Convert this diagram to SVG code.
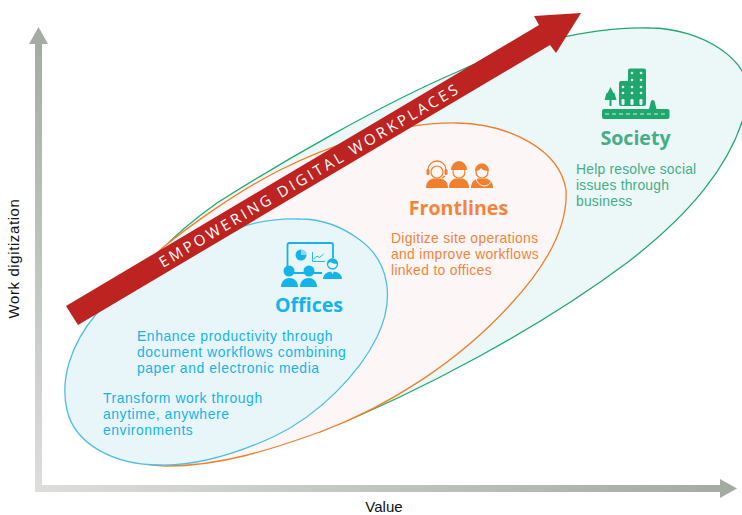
<svg xmlns="http://www.w3.org/2000/svg" width="742" height="515" viewBox="0 0 742 515">
<style>
text{font-family:"Liberation Sans",Arial,sans-serif}
.t{font-size:13.900px}
.b{fill:#14b4ea}.o{fill:#f2843c}.g{fill:#46ad88}
.b.t{letter-spacing:.58px}.o.t{letter-spacing:.32px}.g.t{letter-spacing:.2px}
.h{font-family:"Open Sans","Noto Sans",sans-serif;font-size:19.600px;font-weight:700}
.ax{font-size:15px;fill:#111}
.area{stroke-width:1.300}
</style>
<defs>
<linearGradient id="gv" gradientUnits="userSpaceOnUse" x1="0" y1="492" x2="0" y2="27"><stop offset="0" stop-color="#dcdedc"/><stop offset="1" stop-color="#a3aaa2"/></linearGradient>
<linearGradient id="gh" gradientUnits="userSpaceOnUse" x1="35" y1="0" x2="737" y2="0"><stop offset="0" stop-color="#dcdedc"/><stop offset="1" stop-color="#a3aaa2"/></linearGradient>
</defs>
<g id="axes">
<path d="M35,492V44H29L38.500,27L48,44H42V492Z" fill="url(#gv)"/>
<path d="M35,485H720V479L737,488.500L720,498V492H35Z" fill="url(#gh)"/>
<text class="ax" x="19" y="258.500" text-anchor="middle" letter-spacing=".6" transform="rotate(-90 19 258.500)">Work digitization</text>
<text class="ax" x="384" y="511.500" text-anchor="middle">Value</text>
</g>
<g id="society-area"><path class="area" d="M320,432C420,392 540,328 628,262C685,218 735,165 748,100C755,60 700,28 650,28C590,26 510,47 457,72C380,105 280,163 217,203C190,222 165,245 150,262C200,300 250,400 320,432Z" fill="#ecf7f7" stroke="#22a86f"/></g>
<g id="frontlines-area"><path class="area" d="M167,466C220,466 270,450 320,432C390,406 460,360 510,305C550,262 568,225 566,190C560,150 510,124 457,123C390,122 320,150 280,170C240,190 190,225 160,250C100,320 60,466 167,466Z" fill="#fdf6f6" stroke="#f07f2e"/></g>
<g id="offices-area"><path class="area" d="M160,465C200,466 240,452 273,437C320,415 360,372 377,337C395,300 390,262 360,240C340,225 320,219 300,219C275,218 250,223 230,231C180,250 130,280 97,313C70,345 60,380 67,410C75,445 115,465 160,465Z" fill="#e8f6f9" stroke="#4fbfe0"/></g>
<g id="connectors"><path d="M66,306L539,25L534,16L581,13L556,53L550,45L78,325Z" fill="#bd2320"/>
<text x="0" y="0" font-size="15" fill="#fff" textLength="344" lengthAdjust="spacing" style="font-family:'Open Sans','Noto Sans',sans-serif" transform="translate(163,268) rotate(-30.600)">EMPOWERING DIGITAL WORKPLACES</text></g>
<g id="offices">
<path d="M322,273H289.500a2,2 0 0 1 -2,-2V245a2,2 0 0 1 2,-2H331a2,2 0 0 1 2,2V258" fill="none" stroke="#14b4ea" stroke-width="1.800"/>
<circle cx="301" cy="255" r="5.500" fill="#14b4ea"/><path d="M301,255v-5.500a5.500,5.500 0 0 1 5.500,5.500Z" fill="#8fd8f3"/>
<path d="M312.500,252v9.500H325M313.500,259l3.500,-3l2.500,1.500l4,-3.500" fill="none" stroke="#14b4ea" stroke-width=".9"/>
<g fill="#14b4ea"><circle cx="289" cy="271" r="5.500"/><path d="M281,287c0,-12 17,-12 17,0Z"/><circle cx="309" cy="271" r="5.500"/><path d="M300,287c0,-12 17,-12 17,0Z"/>
<path d="M323,279c0,-10 19,-10 19,0Z"/><path d="M330,270l2.500,4l2.500,-4Z" fill="#e8f6f9"/><circle cx="332.500" cy="264" r="5" fill="#e8f6f9" stroke="#14b4ea" stroke-width="1.300"/><path d="M327.500,264a5,5.500 0 0 1 10,0c-3,0 -6,-1 -7,-2Z"/></g>
<text class="h b" x="309" y="312" text-anchor="middle">Offices</text>
<text class="t b" x="137" y="341">Enhance productivity through</text>
<text class="t b" x="137" y="357">document workflows combining</text>
<text class="t b" x="137" y="373">paper and electronic media</text>
<text class="t b" x="103" y="403">Transform work through</text>
<text class="t b" x="103" y="419">anytime, anywhere</text>
<text class="t b" x="103" y="435">environments</text>
</g>
<g id="frontlines">
<g fill="#f07f2e"><path d="M426,188c0,-6 3,-8 7,-9.500h8c4,1.500 7,3.500 7,9.500Z"/><path d="M449,188c0,-6 3,-8 6,-9.500h8c3,1.500 6,3.500 6,9.500Z"/><path d="M471,188c0,-6 3,-8 7,-9.500h8c4,1.500 7,3.500 7,9.500Z"/></g>
<g fill="#fdf6f6" stroke="#f07f2e" stroke-width="1.200"><circle cx="437" cy="172" r="6"/><circle cx="459" cy="172" r="6"/><circle cx="482" cy="172" r="6"/></g>
<g fill="#f07f2e"><rect x="426.500" y="169" width="3" height="6" rx="1.500"/><rect x="444.500" y="169" width="3" height="6" rx="1.500"/>
<path d="M451,170a8,9 0 0 1 16,0Z"/><path d="M475,171c0,-10 14,-10 14,0c-4,0 -7,-1 -8,-3c-1,2 -3,3 -6,3Z"/></g>
<path d="M428,170a9,9 0 0 1 18,0M445,176l-3,2" fill="none" stroke="#f07f2e" stroke-width="1.300"/>
<path d="M476,176c0,6 3,9 8,10c5,0 7,-4 8,-7" fill="none" stroke="#fdf6f6" stroke-width="1"/>
<text class="h o" x="458.500" y="215" text-anchor="middle">Frontlines</text>
<text class="t o" x="391" y="243">Digitize site operations</text>
<text class="t o" x="391" y="259">and improve workflows</text>
<text class="t o" x="391" y="275">linked to offices</text>
</g>
<g id="society">
<g fill="#1fa86d"><path d="M630,68.500h14a2,2 0 0 1 2,2V104a2,2 0 0 1 -2,2H621a2,2 0 0 1 -2,-2V83a2,2 0 0 1 2,-2h7V70.500a2,2 0 0 1 2,-2Z"/><path d="M610.500,87l3,6l1,0l2,7h-5v6h-2v-6h-5l2,-7l1,0Z"/><rect x="602" y="109" width="67.500" height="10" rx="2"/><path d="M649,109l1.500,-6c.5,-4 4,-4 4.500,0l1.500,6Z"/></g>
<g fill="#ecf7f7"><circle cx="632" cy="73" r="1.300"/><circle cx="641" cy="73" r="1.300"/><circle cx="632" cy="80" r="1.300"/><circle cx="641" cy="80" r="1.300"/><circle cx="623" cy="87" r="1.300"/><circle cx="632" cy="87" r="1.300"/><circle cx="641" cy="87" r="1.300"/><circle cx="623" cy="93" r="1.300"/><circle cx="632" cy="93" r="1.300"/><circle cx="641" cy="93" r="1.300"/><rect x="621.500" y="99" width="3" height="6" rx="1.200"/><rect x="630.500" y="99" width="3" height="6" rx="1.200"/><rect x="639.500" y="99" width="3" height="6" rx="1.200"/></g>
<path d="M605,114h62" stroke="#ecf7f7" stroke-width="0.900" stroke-dasharray="4 3"/>
<text class="h g" x="635.500" y="145" text-anchor="middle">Society</text>
<text class="t g" x="576" y="174">Help resolve social</text>
<text class="t g" x="576" y="190">issues through</text>
<text class="t g" x="576" y="206">business</text>
</g>
</svg>
